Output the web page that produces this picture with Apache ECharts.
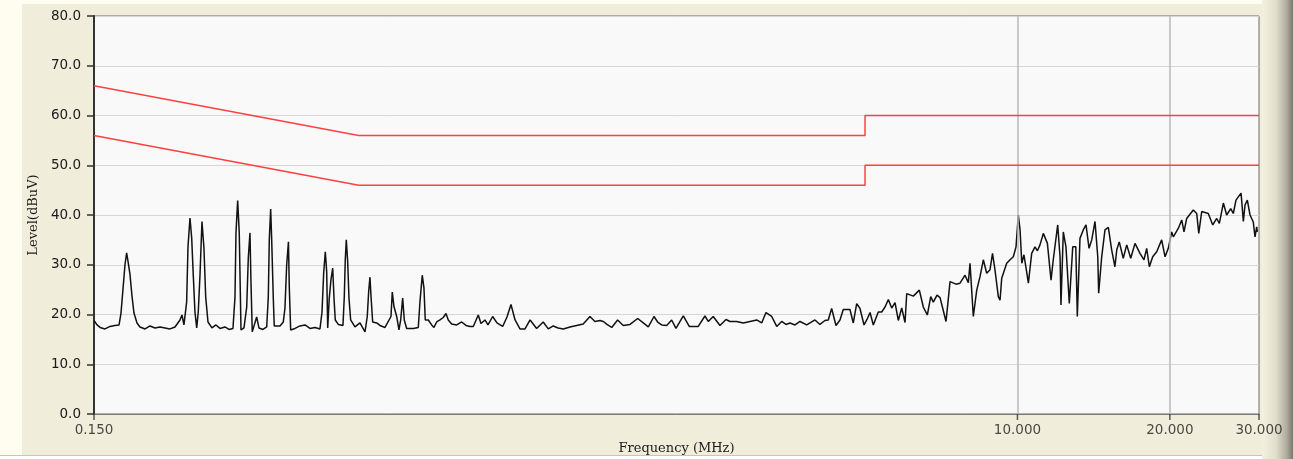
<!DOCTYPE html>
<html>
<head>
<meta charset="utf-8">
<script src="https://cdn.jsdelivr.net/npm/echarts@6/dist/echarts.min.js"></script>
<style>
  html, body { margin: 0; padding: 0; background: #F1EDDB; }
  #chart { width: 1293px; height: 459px; }
</style>
</head>
<body>
<div id="chart"></div>
<script>
// Frequency (MHz) of each measured point
const freq = [
  0.150,0.1521,0.1542,0.1577,0.1613,0.1650,0.1681,0.1696,0.1711,0.1727,
  0.1740,0.1751,0.1767,0.1783,0.1799,0.1824,0.1849,0.1892,0.1935,0.1980,
  0.2025,0.2072,0.2119,0.2168,0.2218,0.2238,0.2258,0.2286,0.2300,0.2321,
  0.2339,0.2356,0.2374,0.2393,0.2410,0.2429,0.2451,0.2473,0.2493,0.2519,
  0.2565,0.2612,0.2660,0.2721,0.2771,0.2822,0.2848,0.2861,0.2883,0.2904,
  0.2927,0.2967,0.3004,0.3026,0.3049,0.3063,0.3081,0.3143,0.3176,0.3235,
  0.3290,0.3314,0.3329,0.3350,0.3365,0.3390,0.3405,0.3495,0.3548,0.3575,
  0.3603,0.3632,0.3646,0.3669,0.3742,0.3828,0.3916,0.4006,0.4098,0.4192,
  0.4231,0.4263,0.4295,0.4322,0.4342,0.4373,0.4407,0.4442,0.4468,0.4494,
  0.4556,0.4654,0.4682,0.4703,0.4725,0.4755,0.4783,0.4820,0.4915,0.5028,
  0.5144,0.5198,0.5231,0.5262,0.5293,0.5327,0.5425,0.5507,0.5634,0.5790,
  0.5824,0.5869,0.5942,0.6004,0.6051,0.6106,0.6151,0.6218,0.6408,0.6555,
  0.6606,0.6675,0.6727,0.6767,0.6860,0.6967,0.7040,0.7127,0.7235,0.7344,
  0.7435,0.7513,0.7630,0.7806,0.7985,0.8043,0.8143,0.8292,0.8418,0.8612,
  0.8718,0.8878,0.9000,0.9194,0.9376,0.9622,0.9813,0.9993,1.018,1.041,
  1.065,1.090,1.123,1.157,1.184,1.211,1.238,1.268,1.307,1.347,
  1.388,1.431,1.464,1.498,1.521,1.546,1.580,1.623,1.665,1.717,
  1.778,1.824,1.866,1.915,1.950,1.983,2.029,2.075,2.116,2.188,
  2.248,2.342,2.414,2.451,2.507,2.585,2.657,2.705,2.789,2.874,
  2.963,3.055,3.125,3.187,3.271,3.346,3.423,3.490,3.554,3.636,
  3.720,3.835,3.982,4.073,4.167,4.230,4.296,4.381,4.462,4.529,
  4.669,4.740,4.814,4.887,4.977,5.045,5.115,5.192,5.311,5.394,
  5.476,5.559,5.645,5.731,5.817,5.908,5.998,6.044,6.228,6.401,
  6.518,6.638,6.741,6.821,6.937,7.033,7.227,7.360,7.563,7.702,
  7.879,7.999,8.060,8.182,8.310,8.435,8.563,8.696,8.828,8.929,
  9.031,9.167,9.239,9.310,9.524,9.668,9.814,9.936,10.04,10.12,
  10.20,10.30,10.40,10.51,10.67,10.83,10.95,11.08,11.25,11.46,
  11.65,11.77,12.01,12.14,12.19,12.32,12.47,12.66,12.86,13.04,
  13.13,13.29,13.49,13.66,13.85,14.02,14.23,14.41,14.47,14.67,
  14.89,15.12,15.35,15.58,15.71,15.89,16.18,16.44,16.74,17.07,
  17.46,17.78,18.00,18.22,18.50,18.84,19.27,19.57,19.86,20.17,
  20.32,20.78,21.11,21.33,21.59,22.25,22.60,22.81,23.12,23.82,
  24.31,24.75,25.05,25.51,25.90,26.38,26.69,27.02,27.65,27.94,
  28.15,28.45,28.80,29.23,29.46,29.69,29.77
];
// Measured level (dBuV) at each frequency
const level = [
  18.8,17.9,17.4,17.1,17.6,17.8,17.9,20.3,25.0,30.0,
  32.4,30.7,28.0,23.7,20.3,18.3,17.5,17.1,17.7,17.3,
  17.5,17.3,17.1,17.5,18.9,19.9,17.9,22.5,33.6,39.4,
  35.4,27.9,20.5,17.3,20.5,27.9,38.7,33.4,23.5,18.5,
  17.3,17.9,17.2,17.5,17.0,17.2,23.5,36.4,42.9,36.4,
  16.9,17.3,21.5,31.4,36.4,26.5,16.5,19.5,17.3,17.0,
  17.5,23.5,35.0,41.2,35.3,23.3,17.7,17.7,18.5,21.3,
  30.0,34.6,25.5,16.9,17.2,17.7,17.9,17.2,17.4,17.1,
  20.5,28.3,32.6,28.6,17.3,23.3,27.0,29.3,23.3,18.9,
  18.0,17.8,23.5,31.0,35.0,30.6,23.3,18.9,17.5,18.3,
  16.5,19.6,24.6,27.5,22.9,18.5,18.3,17.8,17.4,19.6,
  24.5,21.6,19.6,16.9,18.9,23.3,18.9,17.2,17.2,17.4,
  22.6,27.9,25.3,18.9,18.9,17.9,17.4,18.5,18.9,19.4,
  20.2,18.9,18.1,17.9,18.5,18.9,17.8,17.6,17.6,19.9,
  18.2,18.9,17.9,19.6,18.3,17.6,19.5,22.0,18.9,17.1,
  17.1,18.9,17.2,18.5,17.1,17.7,17.3,17.1,17.5,17.8,
  18.1,19.6,18.6,18.8,18.6,18.0,17.4,18.9,17.8,18.0,
  19.2,18.3,17.5,19.6,18.4,17.9,17.8,18.9,17.2,19.7,
  17.6,17.6,19.7,18.6,19.6,17.8,19.0,18.6,18.6,18.3,
  18.6,18.9,18.3,20.4,19.6,17.6,18.6,18.0,18.3,17.9,
  18.6,17.9,18.9,18.0,18.8,18.9,21.2,17.8,18.9,21.0,
  21.0,18.3,22.2,21.2,17.9,19.0,20.4,17.9,20.5,20.5,
  21.5,23.0,21.3,22.4,18.8,21.3,18.4,24.2,23.7,24.9,
  21.5,19.9,23.6,22.5,23.9,23.4,18.6,26.6,26.1,26.3,
  27.9,26.4,30.3,19.6,24.9,27.6,31.0,28.3,29.0,32.3,
  28.9,23.6,22.9,27.3,30.3,31.0,31.6,33.6,40.0,37.0,
  30.3,32.0,29.3,26.3,32.3,33.6,32.8,34.0,36.3,34.3,
  26.9,31.0,38.0,31.5,21.9,36.6,33.6,22.2,33.6,33.6,
  19.6,35.3,37.0,38.0,33.3,35.0,38.7,31.6,24.3,31.6,
  37.0,37.5,33.0,29.6,33.0,34.6,31.3,34.0,31.3,34.3,
  32.3,31.0,33.3,29.6,31.6,32.6,35.0,31.6,33.3,36.6,
  35.6,37.3,39.0,36.6,39.3,41.0,40.3,36.3,40.7,40.3,
  38.0,39.3,38.3,42.4,40.0,41.3,40.3,43.0,44.4,38.7,
  42.0,43.0,40.0,38.6,35.6,37.6,36.6
];
// Limit lines (frequency MHz, dBuV)
const qpLimitFreq  = [0.15, 0.5, 5, 5, 30];
const qpLimitLevel = [66, 56, 56, 60, 60];
const avLimitFreq  = [0.15, 0.5, 5, 5, 30];
const avLimitLevel = [56, 46, 46, 50, 50];
// Axis ticks
const xTickValues = [0.15, 10, 20, 30];
const xGridValues = [10, 20];
const yMin = 0, yMax = 80, yStep = 10;

const zip = (a, b) => a.map((v, i) => [v, b[i]]);

const chart = echarts.init(document.getElementById('chart'), null, { renderer: 'canvas' });

chart.setOption({
  animation: false,
  backgroundColor: '#F1EDDB',
  graphic: [
    { type: 'rect', left: 0, top: 0, shape: { width: 22, height: 459 }, style: { fill: '#FFFDF0' }, silent: true, z: -10 },
    { type: 'rect', left: 0, top: 0, shape: { width: 1293, height: 4 }, style: { fill: '#FFFDF2' }, silent: true, z: -10 },
    { type: 'rect', left: 0, top: 455, shape: { width: 1293, height: 4 }, style: { fill: '#ffffff' }, silent: true, z: -10 },
    { type: 'rect', left: 0, top: 455, shape: { width: 1293, height: 1 }, style: { fill: '#c9c5b2' }, silent: true, z: -9 },
    { type: 'rect', left: 1262, top: 0, shape: { width: 31, height: 459 }, silent: true, z: -8,
      style: { fill: new echarts.graphic.LinearGradient(0, 0, 1, 0, [
        { offset: 0, color: '#f4f1e2' }, { offset: 0.45, color: '#e2decb' },
        { offset: 0.8, color: '#aeab9e' }, { offset: 1, color: '#7a786e' }]) } }
  ],
  grid: {
    left: 94, right: 34, top: 16, bottom: 45,
    outerBoundsMode: 'none', containLabel: false,
    show: true, backgroundColor: '#F9F9F9', borderColor: '#6a6a6a', borderWidth: 1
  },
  xAxis: {
    type: 'log', logBase: 10, min: 0.15, max: 30,
    name: 'Frequency (MHz)', nameLocation: 'middle', nameGap: 28,
    nameTextStyle: { fontFamily: 'DejaVu Serif', fontSize: 13, color: '#1a1a1a' },
    axisLine: { show: true, lineStyle: { color: '#7a7a7a', width: 1 } },
    axisTick: { show: false }, axisLabel: { show: false },
    splitLine: { show: false }, minorTick: { show: false }, minorSplitLine: { show: false }
  },
  yAxis: {
    type: 'value', min: yMin, max: yMax, interval: yStep,
    name: 'Level(dBuV)', nameLocation: 'middle', nameGap: 53,
    nameTextStyle: { fontFamily: 'DejaVu Serif', fontSize: 13, color: '#1a1a1a' },
    axisLine: { show: true, lineStyle: { color: '#333', width: 2 } },
    axisTick: { show: true, length: 7, lineStyle: { color: '#333', width: 1.5 } },
    axisLabel: { margin: 13, formatter: v => v.toFixed(1), color: '#1a1a1a',
      fontFamily: 'DejaVu Sans', fontSize: 13.5 },
    splitLine: { show: true, lineStyle: { color: '#d6d6d6', width: 1 } }
  },
  series: [
    {
      // vertical grid lines at 10 and 20 MHz
      type: 'line', data: [], symbol: 'none', z: 1,
      markLine: { silent: true, symbol: 'none', animation: false,
        label: { show: false },
        lineStyle: { color: '#b8b8b8', width: 1.5, type: 'solid' },
        data: xGridValues.map(v => ({ xAxis: v })) }
    },
    {
      // x-axis tick marks and labels
      type: 'scatter', clip: false, silent: true, z: 5,
      data: xTickValues.map(v => [v, yMin]),
      symbol: 'rect', symbolSize: [1.5, 6], symbolOffset: [0, 3],
      itemStyle: { color: '#333' },
      label: { show: true, position: 'bottom', distance: 3,
        formatter: p => p.value[0].toFixed(3),
        color: '#1a1a1a', fontFamily: 'DejaVu Sans', fontSize: 13.5 }
    },
    {
      type: 'line', data: zip(qpLimitFreq, qpLimitLevel), symbol: 'none', z: 6,
      lineStyle: { color: '#ff4040', width: 1.5 }
    },
    {
      type: 'line', data: zip(avLimitFreq, avLimitLevel), symbol: 'none', z: 6,
      lineStyle: { color: '#ff4040', width: 1.5 }
    },
    {
      type: 'line', data: zip(freq, level), symbol: 'none', z: 4,
      lineStyle: { color: '#111', width: 1.5 }
    }
  ]
});
</script>
</body>
</html>
